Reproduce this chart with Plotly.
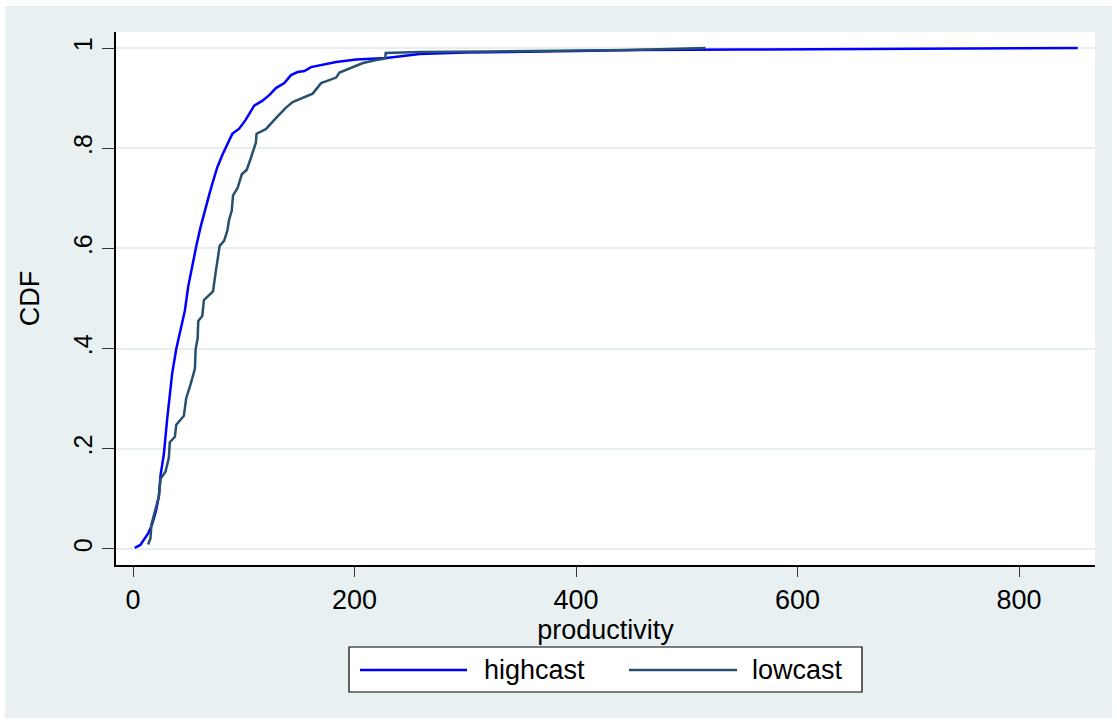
import plotly.graph_objects as go

# ---- data ----
high_x = [1.5, 6.6, 13.6, 17.2, 20.8, 23.3, 24.8, 27.8, 30.8, 32.9, 35.3, 39.0, 42.9, 46.8,
          49.8, 53.5, 57.4, 61.0, 65.0, 68.6, 72.2, 76.1, 80.7, 85.2, 89.7, 95.8, 101.8,
          109.4, 116.9, 123.0, 129.0, 136.6, 142.6, 148.6, 154.7, 160.7, 171.3, 183.4,
          201.5, 228.7, 258.9, 300, 400, 455, 550, 620, 853]
high_y = [0.002, 0.008, 0.031, 0.049, 0.077, 0.105, 0.147, 0.189, 0.259, 0.308, 0.350, 0.399,
          0.441, 0.476, 0.524, 0.566, 0.608, 0.643, 0.678, 0.706, 0.734, 0.762, 0.787, 0.808,
          0.829, 0.839, 0.857, 0.885, 0.895, 0.906, 0.920, 0.930, 0.946, 0.952, 0.954, 0.962,
          0.966, 0.972, 0.977, 0.980, 0.988, 0.991, 0.994, 0.996, 0.997, 0.998, 1.0]

low_x = [13.6, 15.7, 16.6, 20.2, 23.3, 24.8, 29.3, 32.3, 33.2, 37.8, 39.0, 45.9, 48.0, 52.0,
         55.9, 56.5, 58.3, 58.9, 62.5, 64.0, 72.2, 74.6, 78.2, 82.2, 85.2, 86.7, 89.1, 90.3,
         94.3, 98.2, 102.7, 106.3, 108.5, 110.9, 111.5, 119.9, 129.0, 138.1, 144.1, 154.7,
         162.2, 169.8, 183.4, 186.4, 199.4, 207.6, 219.6, 227.8, 228.1, 258.9, 320, 400,
         450, 517]
low_y = [0.009, 0.021, 0.049, 0.080, 0.105, 0.140, 0.154, 0.182, 0.213, 0.224, 0.248, 0.266,
         0.301, 0.329, 0.360, 0.399, 0.420, 0.455, 0.465, 0.497, 0.514, 0.552, 0.605, 0.615,
         0.636, 0.657, 0.675, 0.706, 0.720, 0.748, 0.757, 0.780, 0.797, 0.811, 0.829, 0.838,
         0.860, 0.881, 0.892, 0.902, 0.909, 0.930, 0.941, 0.951, 0.962, 0.970, 0.976, 0.979,
         0.990, 0.992, 0.993, 0.995, 0.996, 1.0]

x_ticks = [0, 200, 400, 600, 800]
y_ticks = [0, 0.2, 0.4, 0.6, 0.8, 1]
y_ticktext = ["0", ".2", ".4", ".6", ".8", "1"]
series_names = ["highcast", "lowcast"]

BLUE = "#0000ff"
DARK = "#26506e"
BG = "#e9f0f2"
GRID = "#e6eef1"
FONT = "Liberation Sans, Arial, sans-serif"
FS = 27

fig = go.Figure()
fig.add_trace(go.Scatter(x=high_x, y=high_y, mode="lines", name=series_names[0],
                         line=dict(color=BLUE, width=2.5), showlegend=False))
fig.add_trace(go.Scatter(x=low_x, y=low_y, mode="lines", name=series_names[1],
                         line=dict(color=DARK, width=2.5), showlegend=False))

W, H = 1117, 723
L, R, T, B = 116, 1095, 32, 565


def px(x):
    return (x - L) / (R - L)


def py(y):
    return (B - y) / (B - T)


shapes = [
    # outer light background
    dict(type="rect", xref="paper", yref="paper", x0=px(5), x1=px(1112), y0=py(718), y1=py(6),
         fillcolor=BG, line=dict(width=0), layer="below"),
    # plot area white
    dict(type="rect", xref="paper", yref="paper", x0=0, x1=1, y0=0, y1=1,
         fillcolor="white", line=dict(width=0), layer="below"),
    # legend box
    dict(type="rect", xref="paper", yref="paper", x0=px(349), x1=px(862), y0=py(692), y1=py(647),
         fillcolor="white", line=dict(color="black", width=1.2)),
    dict(type="line", xref="paper", yref="paper", x0=px(360), x1=px(467), y0=py(670), y1=py(670),
         line=dict(color=BLUE, width=2.5)),
    dict(type="line", xref="paper", yref="paper", x0=px(629), x1=px(737), y0=py(670), y1=py(670),
         line=dict(color=DARK, width=2.5)),
]

annotations = [
    dict(text=series_names[0], xref="paper", yref="paper", x=px(482), y=py(670),
         xanchor="left", yanchor="middle", showarrow=False,
         font=dict(family=FONT, size=FS, color="black")),
    dict(text=series_names[1], xref="paper", yref="paper", x=px(750), y=py(670),
         xanchor="left", yanchor="middle", showarrow=False,
         font=dict(family=FONT, size=FS, color="black")),
]

fig.update_layout(
    width=W, height=H,
    margin=dict(l=L, r=W - R, t=T, b=H - B, pad=0),
    paper_bgcolor="white", plot_bgcolor="white",
    font=dict(family=FONT, size=FS, color="black"),
    shapes=shapes, annotations=annotations,
    showlegend=False,
    xaxis=dict(range=[-15.4, 868.6], tickvals=x_ticks, showgrid=False, zeroline=False,
               showline=True, linecolor="black", linewidth=1.5,
               ticks="outside", ticklen=10, tickwidth=1.2, tickcolor="#333",
               tickfont=dict(size=FS, color="black"),
               title=dict(text="productivity", standoff=0, font=dict(size=FS))),
    yaxis=dict(range=[-0.032, 1.032], tickvals=y_ticks, ticktext=y_ticktext,
               tickangle=-90, showgrid=True, gridcolor=GRID, gridwidth=2, zeroline=False,
               showline=True, linecolor="black", linewidth=1.5,
               ticks="outside", ticklen=12, tickwidth=1.2, tickcolor="#333",
               tickfont=dict(size=25, color="black"),
               title=dict(text="CDF", standoff=22, font=dict(size=FS))),
)

fig.write_html("out.html", config={"displayModeBar": False},
               post_script="document.body.style.margin='0';document.body.style.overflow='hidden';")
